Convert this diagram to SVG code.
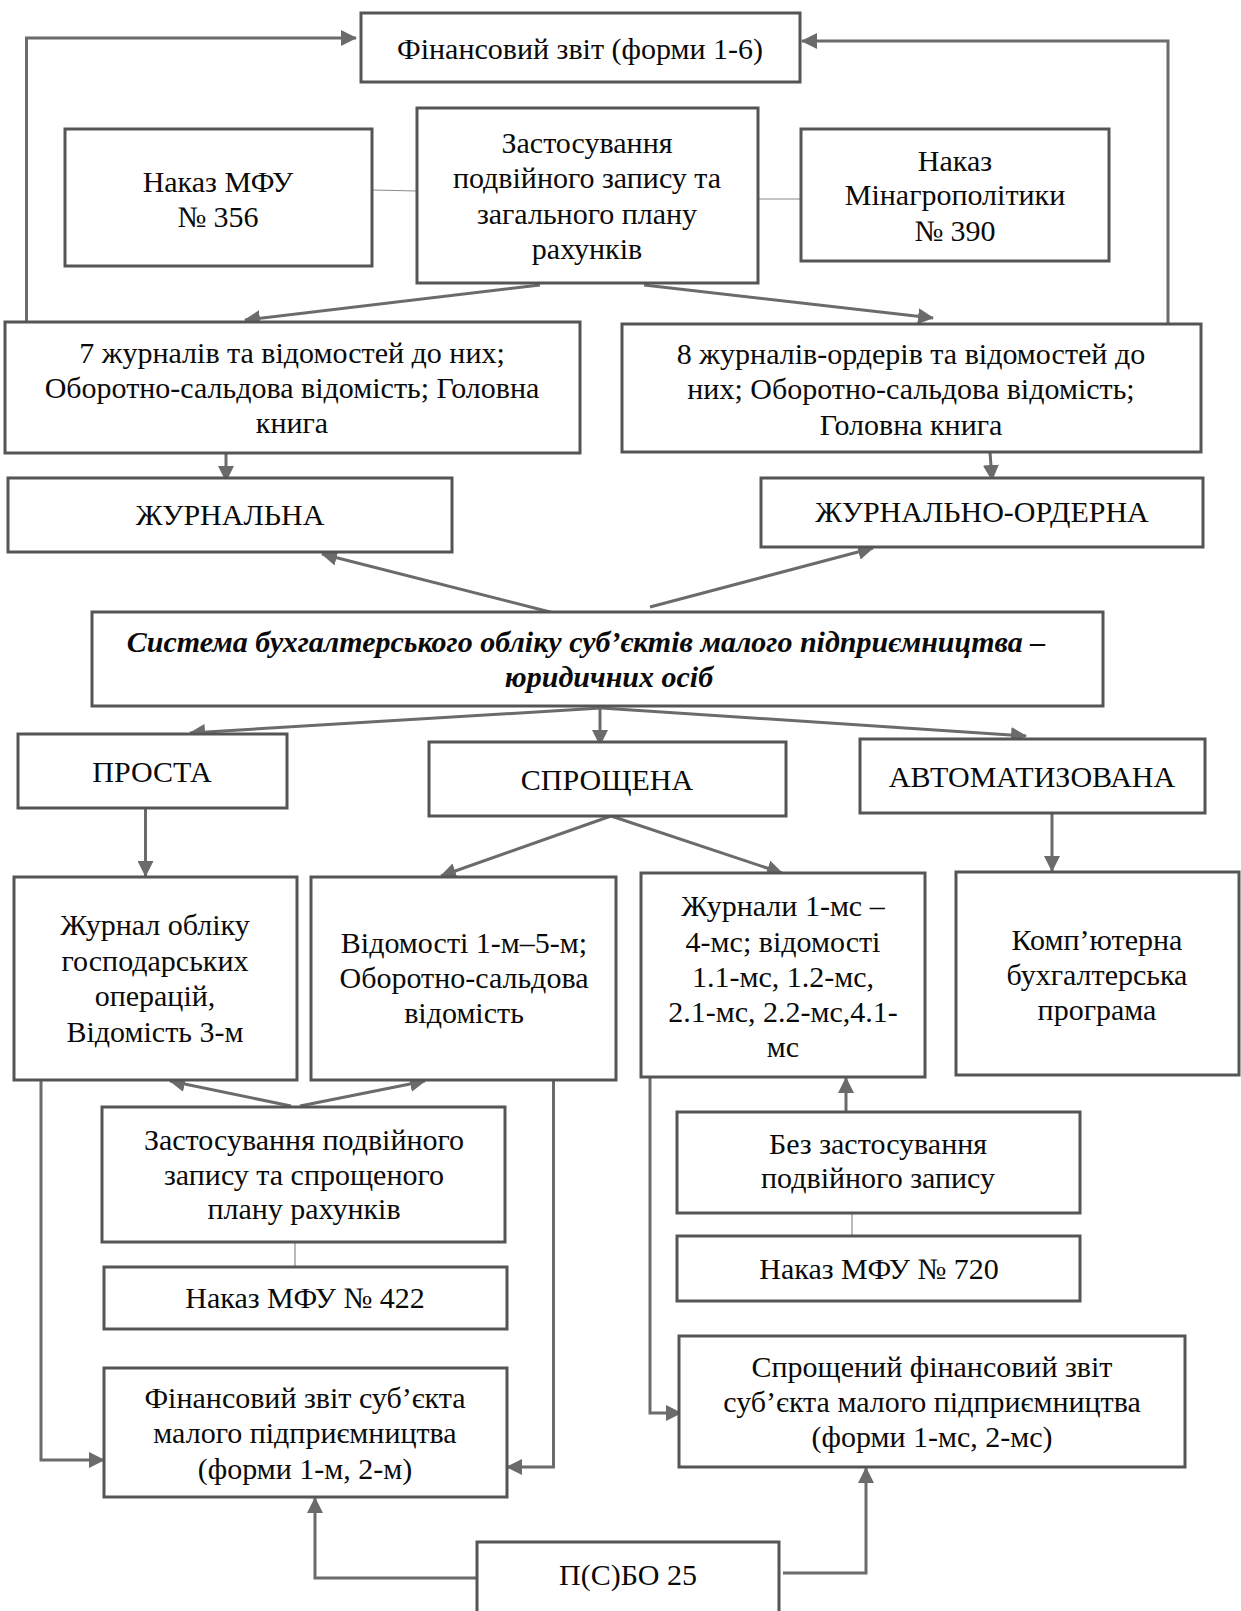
<svg xmlns="http://www.w3.org/2000/svg" width="1241" height="1611" viewBox="0 0 1241 1611">
<style>
.box{fill:#fff;stroke:#555;stroke-width:3}
.t{font-family:"Liberation Serif","Times New Roman",serif;font-size:30px;fill:#0a0a0a;text-anchor:middle}
.bi{font-weight:bold;font-style:italic}
.c{fill:none;stroke:#6b6b6b;stroke-width:3}
.thin{fill:none;stroke:#8a8a8a;stroke-width:1.2}
</style>
<defs>
<marker id="ah" markerWidth="16" markerHeight="16" refX="15" refY="8" orient="auto" markerUnits="userSpaceOnUse">
<path d="M0,0 L16,8 L0,16 z" fill="#6b6b6b"/>
</marker>
</defs>
<rect width="1241" height="1611" fill="#fff"/>

<g id="connectors">
<polyline class="c" points="26.5,322 26.5,38 356,38" marker-end="url(#ah)"/>
<polyline class="c" points="1168,324 1168,41 802,41" marker-end="url(#ah)"/>
<line class="c" x1="540" y1="285" x2="245" y2="320" marker-end="url(#ah)"/>
<line class="c" x1="644" y1="285" x2="933" y2="318" marker-end="url(#ah)"/>
<line class="thin" x1="372" y1="190" x2="417" y2="191"/>
<line class="thin" x1="758" y1="199" x2="801" y2="199"/>
<line class="c" x1="226" y1="453" x2="226" y2="481" marker-end="url(#ah)"/>
<line class="c" x1="990" y1="452" x2="992" y2="480" marker-end="url(#ah)"/>
<line class="c" x1="554" y1="613" x2="322" y2="554" marker-end="url(#ah)"/>
<line class="c" x1="650" y1="607" x2="873" y2="548" marker-end="url(#ah)"/>
<line class="c" x1="601" y1="708" x2="190" y2="733" marker-end="url(#ah)"/>
<line class="c" x1="600" y1="708" x2="600" y2="745" marker-end="url(#ah)"/>
<line class="c" x1="601" y1="708" x2="1026" y2="736" marker-end="url(#ah)"/>
<line class="c" x1="145.5" y1="808" x2="145.5" y2="876" marker-end="url(#ah)"/>
<line class="c" x1="611" y1="816" x2="441" y2="876" marker-end="url(#ah)"/>
<line class="c" x1="611" y1="816" x2="782" y2="873" marker-end="url(#ah)"/>
<line class="c" x1="1052" y1="813" x2="1052" y2="871" marker-end="url(#ah)"/>
<line class="c" x1="291" y1="1106" x2="170" y2="1081" marker-end="url(#ah)"/>
<line class="c" x1="300" y1="1106" x2="425" y2="1081" marker-end="url(#ah)"/>
<polyline class="c" points="41,1080 41,1460 104,1460" marker-end="url(#ah)"/>
<polyline class="c" points="553.5,1080 553.5,1467 507,1467" marker-end="url(#ah)"/>
<line class="thin" x1="295" y1="1242" x2="295" y2="1267"/>
<polyline class="c" points="477,1578 315,1578 315,1498" marker-end="url(#ah)"/>
<polyline class="c" points="650,1077 650,1413 681,1413" marker-end="url(#ah)"/>
<line class="c" x1="846" y1="1112" x2="846" y2="1078" marker-end="url(#ah)"/>
<line class="thin" x1="852" y1="1213" x2="852" y2="1236"/>
<polyline class="c" points="783,1573 866,1573 866,1468" marker-end="url(#ah)"/>
</g>

<g id="n_finzvit">
<rect class="box" x="361" y="13" width="439" height="69"/>
<text class="t" x="580" y="59">Фінансовий звіт (форми 1-6)</text>
</g>
<g id="n_nakaz356">
<rect class="box" x="65" y="129" width="307" height="137"/>
<text class="t" x="218" y="192">Наказ МФУ</text>
<text class="t" x="218" y="227">№ 356</text>
</g>
<g id="n_zastos1">
<rect class="box" x="417" y="108" width="341" height="175"/>
<text class="t" x="587" y="153">Застосування</text>
<text class="t" x="587" y="188">подвійного запису та</text>
<text class="t" x="587" y="224">загального плану</text>
<text class="t" x="587" y="259">рахунків</text>
</g>
<g id="n_nakaz390">
<rect class="box" x="801" y="129" width="308" height="132"/>
<text class="t" x="955" y="171">Наказ</text>
<text class="t" x="955" y="205">Мінагрополітики</text>
<text class="t" x="955" y="241">№ 390</text>
</g>
<g id="n_7zhurn">
<rect class="box" x="5" y="322" width="575" height="131"/>
<text class="t" x="292" y="363">7 журналів та відомостей до них;</text>
<text class="t" x="292" y="398">Оборотно-сальдова відомість; Головна</text>
<text class="t" x="292" y="433">книга</text>
</g>
<g id="n_8zhurn">
<rect class="box" x="622" y="324" width="579" height="128"/>
<text class="t" x="911" y="364">8 журналів-ордерів та відомостей до</text>
<text class="t" x="911" y="399">них; Оборотно-сальдова відомість;</text>
<text class="t" x="911" y="435">Головна книга</text>
</g>
<g id="n_zhurnalna">
<rect class="box" x="8" y="478" width="444" height="74"/>
<text class="t" x="230" y="525">ЖУРНАЛЬНА</text>
</g>
<g id="n_zhurnord">
<rect class="box" x="761" y="478" width="442" height="69"/>
<text class="t" x="982" y="522">ЖУРНАЛЬНО-ОРДЕРНА</text>
</g>
<g id="n_systema">
<rect class="box" x="92" y="612" width="1011" height="94"/>
<text class="t bi" x="586" y="652">Система бухгалтерського обліку суб’єктів малого підприємництва –</text>
<text class="t bi" x="609" y="687">юридичних осіб</text>
</g>
<g id="n_prosta">
<rect class="box" x="18" y="734" width="269" height="74"/>
<text class="t" x="152" y="782">ПРОСТА</text>
</g>
<g id="n_sproshch">
<rect class="box" x="429" y="742" width="357" height="74"/>
<text class="t" x="607" y="790">СПРОЩЕНА</text>
</g>
<g id="n_avtomat">
<rect class="box" x="860" y="739" width="345" height="74"/>
<text class="t" x="1032" y="787">АВТОМАТИЗОВАНА</text>
</g>
<g id="n_zhurnobl">
<rect class="box" x="14" y="877" width="283" height="203"/>
<text class="t" x="155" y="935">Журнал обліку</text>
<text class="t" x="155" y="971">господарських</text>
<text class="t" x="155" y="1006">операцій,</text>
<text class="t" x="155" y="1042">Відомість 3-м</text>
</g>
<g id="n_vidomosti">
<rect class="box" x="311" y="877" width="305" height="203"/>
<text class="t" x="464" y="953">Відомості 1-м–5-м;</text>
<text class="t" x="464" y="988">Оборотно-сальдова</text>
<text class="t" x="464" y="1023">відомість</text>
</g>
<g id="n_zhurnaly">
<rect class="box" x="641" y="873" width="284" height="204"/>
<text class="t" x="783" y="916">Журнали 1-мс –</text>
<text class="t" x="783" y="952">4-мс; відомості</text>
<text class="t" x="783" y="987">1.1-мс, 1.2-мс,</text>
<text class="t" x="783" y="1022">2.1-мс, 2.2-мс,4.1-</text>
<text class="t" x="783" y="1057">мс</text>
</g>
<g id="n_komp">
<rect class="box" x="956" y="872" width="283" height="203"/>
<text class="t" x="1097" y="950">Комп’ютерна</text>
<text class="t" x="1097" y="985">бухгалтерська</text>
<text class="t" x="1097" y="1020">програма</text>
</g>
<g id="n_zastos2">
<rect class="box" x="102" y="1107" width="403" height="135"/>
<text class="t" x="304" y="1150">Застосування подвійного</text>
<text class="t" x="304" y="1185">запису та спрощеного</text>
<text class="t" x="304" y="1219">плану рахунків</text>
</g>
<g id="n_nakaz422">
<rect class="box" x="104" y="1267" width="403" height="62"/>
<text class="t" x="305" y="1308">Наказ МФУ № 422</text>
</g>
<g id="n_finzvit_m">
<rect class="box" x="104" y="1368" width="403" height="129"/>
<text class="t" x="305" y="1408">Фінансовий звіт суб’єкта</text>
<text class="t" x="305" y="1443">малого підприємництва</text>
<text class="t" x="305" y="1479">(форми 1-м, 2-м)</text>
</g>
<g id="n_bez">
<rect class="box" x="677" y="1112" width="403" height="101"/>
<text class="t" x="878" y="1154">Без застосування</text>
<text class="t" x="878" y="1188">подвійного запису</text>
</g>
<g id="n_nakaz720">
<rect class="box" x="677" y="1236" width="403" height="65"/>
<text class="t" x="879" y="1279">Наказ МФУ № 720</text>
</g>
<g id="n_sprfin">
<rect class="box" x="679" y="1336" width="506" height="131"/>
<text class="t" x="932" y="1377">Спрощений фінансовий звіт</text>
<text class="t" x="932" y="1412">суб’єкта малого підприємництва</text>
<text class="t" x="932" y="1447">(форми 1-мс, 2-мс)</text>
</g>
<g id="n_psbo">
<rect class="box" x="477" y="1542" width="302" height="90"/>
<text class="t" x="628" y="1585">П(С)БО 25</text>
</g>
</svg>
